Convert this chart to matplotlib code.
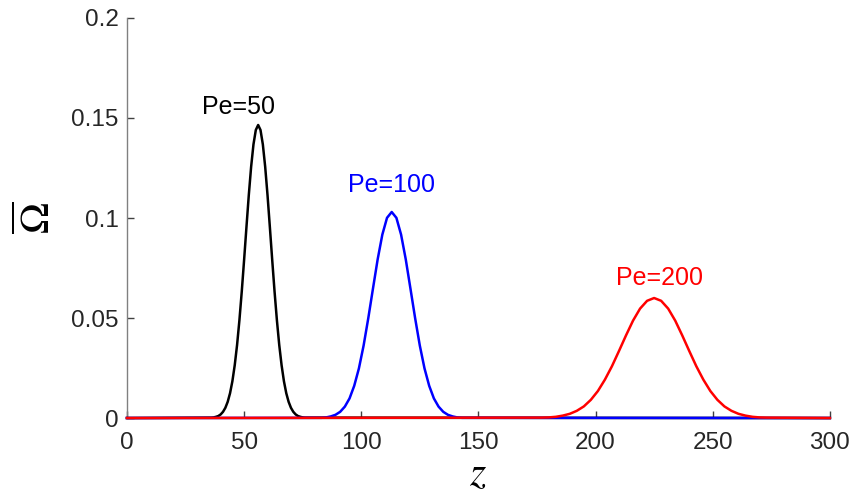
import numpy as np
import matplotlib.pyplot as plt

plt.rcParams['font.family'] = ['Liberation Sans', 'DejaVu Sans']
plt.rcParams['mathtext.fontset'] = 'stix'

# values (symmetric about each peak)
z_pe50 = [0] + list(range(36, 77)) + [300]
half_pe50 = [0.1465, 0.1440, 0.1368, 0.1256, 0.1114, 0.0954, 0.0790, 0.0632,
             0.0489, 0.0365, 0.0264, 0.0184, 0.0124, 0.0081, 0.0051, 0.0031,
             0.0018, 0.0010, 0.0006, 0.0003, 0.0002]
om_pe50 = [0] + half_pe50[:0:-1] + half_pe50 + [0]

z_pe100 = [0] + list(range(83, 144, 2)) + [300]
half_pe100 = [0.1030, 0.1001, 0.0917, 0.0793, 0.0647, 0.0499, 0.0362, 0.0248,
              0.0161, 0.0098, 0.0057, 0.0031, 0.0016, 0.0008, 0.0003, 0.0001]
om_pe100 = [0] + half_pe100[:0:-1] + half_pe100 + [0]

z_pe200 = [0] + list(range(177, 274, 3)) + [300]
half_pe200 = [0.0600, 0.0586, 0.0547, 0.0487, 0.0413, 0.0335, 0.0259, 0.0192,
              0.0135, 0.0091, 0.0058, 0.0036, 0.0021, 0.0012, 0.0006, 0.0003,
              0.0002]
om_pe200 = [0] + half_pe200[:0:-1] + half_pe200 + [0]

labels = ['Pe=50', 'Pe=100', 'Pe=200']
colors = ['black', 'blue', 'red']
label_pos = [(47.5, 0.1555), (113.1, 0.1165), (227.5, 0.070)]

fig = plt.figure(figsize=(8.52, 5.04), dpi=100)
ax = fig.add_axes([0.149, 0.1706, 0.825, 0.7937])

for z, om, c in zip([z_pe50, z_pe100, z_pe200], [om_pe50, om_pe100, om_pe200], colors):
    ax.plot(z, om, color=c, linewidth=1.8, zorder=3, clip_on=False)

for lab, (x, y), c in zip(labels, label_pos, colors):
    ax.text(x, y, lab, color=c, fontsize=18, ha='center', va='center')

ax.set_xlim(0, 300)
ax.set_ylim(0, 0.2)
ax.set_xticks([0, 50, 100, 150, 200, 250, 300])
ax.set_yticks([0, 0.05, 0.1, 0.15, 0.2])
ax.set_yticklabels(['0', '0.05', '0.1', '0.15', '0.2'])

ax.spines['top'].set_visible(False)
ax.spines['right'].set_visible(False)
for s in ['left', 'bottom']:
    ax.spines[s].set_color('#808080')
    ax.spines[s].set_linewidth(1.0)
ax.tick_params(direction='in', length=5, width=1, color='#404040',
               labelsize=17.5, labelcolor='#262626', pad=6)
ax.tick_params(axis='x', pad=10)

ax.set_xlabel(r'$z$', fontsize=30, labelpad=0)
ax.set_ylabel(r'$\overline{\Omega}$', fontsize=30, labelpad=9)

fig.savefig('out.png', dpi=100)
